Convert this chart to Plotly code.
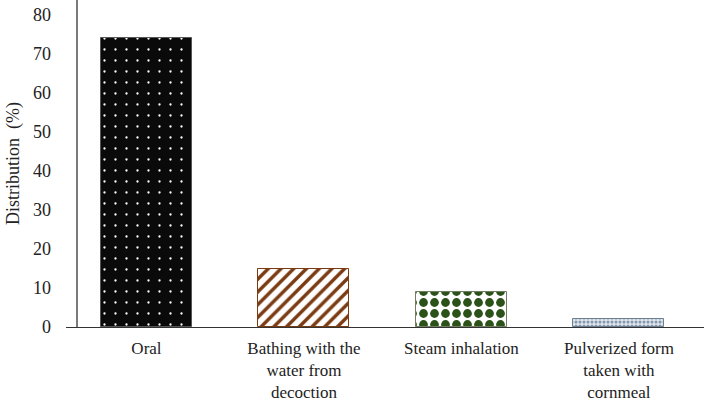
import plotly.graph_objects as go

categories = ["Oral", "Bathing with the<br>water from<br>decoction", "Steam inhalation",
              "Pulverized form<br>taken with<br>cornmeal"]
values = [74, 15, 9, 2]
y_ticks = [0, 10, 20, 30, 40, 50, 60, 70, 80]

fills = ["#0a0a0a", "#ffffff", "#ffffff", "#dfe6ee"]
fgs = ["#ffffff", "#7a3a12", "#2a5219", "#8496aa"]
shapes_p = [".", "/", ".", "."]
sizes = [11, 9, 11, 4]
sol = [0.035, 0.38, 0.5, 0.45]
lines = ["#555555", "#7a3a12", "#6f7f5f", "#6d7f93"]

fig = go.Figure()
for i, (c, v) in enumerate(zip(categories, values)):
    fig.add_trace(go.Bar(
        x=[i], y=[v], width=0.578,
        marker=dict(color=fills[i],
                    line=dict(color=lines[i], width=1),
                    pattern=dict(shape=shapes_p[i], fgcolor=fgs[i], bgcolor=fills[i],
                                 size=sizes[i], solidity=sol[i], fillmode="replace",
                                 fgopacity=1)),
        showlegend=False, hoverinfo="skip"))

fig.add_shape(type="line", xref="paper", yref="paper", x0=0.01724, x1=0.01724, y0=0, y1=1,
              line=dict(color="#333333", width=1.3))

font = dict(family="Liberation Serif", size=18, color="#222222")
fig.update_layout(
    width=708, height=404,
    margin=dict(l=66, r=4, t=0, b=77, autoexpand=False),
    plot_bgcolor="white", paper_bgcolor="white",
    font=font,
    bargap=0,
    xaxis=dict(range=[-0.511, 3.54], tickmode="array", tickvals=list(range(len(categories))),
               ticktext=categories, showline=True, linecolor="#333333", linewidth=1.3,
               showgrid=False, zeroline=False, ticks="", automargin=False, fixedrange=True,
               ticklabelstandoff=5, tickfont=dict(family="Liberation Serif", size=17, color="#222222")),
    yaxis=dict(range=[0, 83.85], tickvals=y_ticks, showline=False, showgrid=False,
               zeroline=False, ticks="", ticklabelstandoff=14, automargin=False,
               title=dict(text="Distribution  (%)", standoff=8, font=font)),
)
fig.write_html("out.html", config={"displayModeBar": False},
               post_script="document.body.style.margin='0';document.body.style.overflow='hidden';")
